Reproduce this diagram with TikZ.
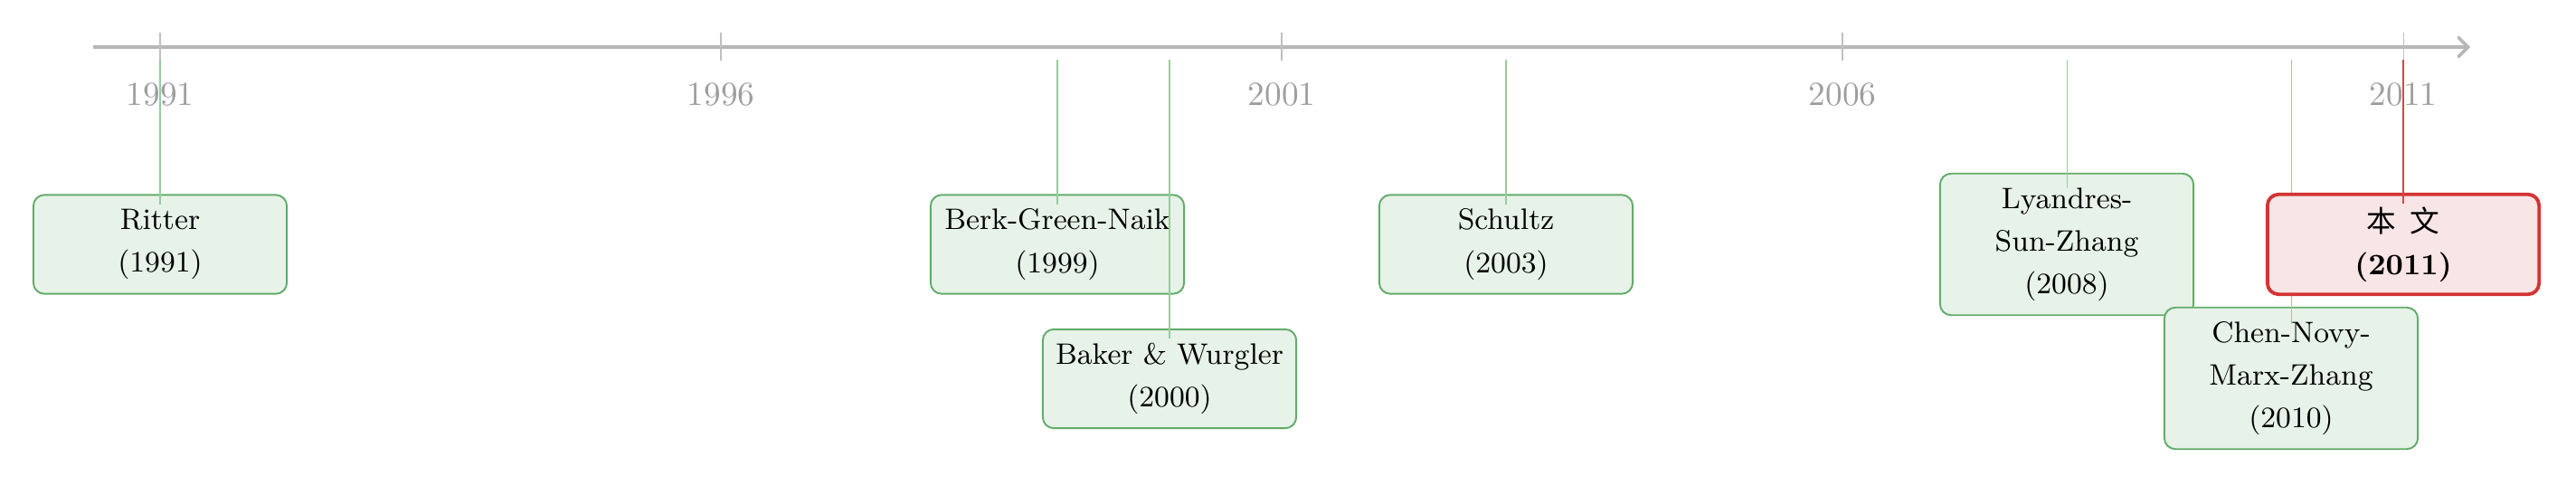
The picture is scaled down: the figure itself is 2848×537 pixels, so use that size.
\documentclass[tikz,border=0pt]{standalone}
\usepackage{fontspec}
\newfontfamily\cjkfont{Noto Sans CJK SC}
\usetikzlibrary{arrows.meta}
\definecolor{axisgray}{RGB}{183,183,183}
\definecolor{tickgray}{RGB}{192,192,192}
\definecolor{labelgray}{RGB}{158,158,158}
\definecolor{evfill}{RGB}{231,242,232}
\definecolor{evdraw}{RGB}{98,172,106}
\definecolor{evline}{RGB}{150,204,156}
\definecolor{mefill}{RGB}{248,229,230}
\definecolor{medraw}{RGB}{211,52,52}
\definecolor{meline}{RGB}{214,70,70}
\begin{document}
\begin{tikzpicture}[x=0.01cm,y=-0.01cm,
  yearlabel/.style={text=labelgray,font=\fontsize{10.6}{12}\selectfont,inner sep=0pt},
  tickmark/.style={draw=tickgray,line width=0.3pt},
  evbox/.style={draw=evdraw,fill=evfill,line width=0.55pt,rounded corners=3.5pt,
    align=center,font=\fontsize{9.3}{13.4}\selectfont,minimum width=79.7pt,
    inner xsep=2pt,inner ysep=2pt},
  twoline/.style={minimum height=31.1pt},
  threeline/.style={minimum height=44.5pt},
  mebox/.style={evbox,draw=medraw,fill=mefill,line width=1.1pt,
    minimum width=85.4pt,minimum height=31.4pt},
  evconn/.style={draw=evline,line width=0.3pt},
  meconn/.style={draw=meline,line width=0.35pt}]

\useasboundingbox (0,0) rectangle (2848,537);

% axis
\coordinate (axisstart) at (103,52);
\coordinate (axisend) at (2731,52);
\draw[axisgray,line width=1pt,
  -{Straight Barb[length=3pt,width=6pt,line cap=round]}] (axisstart) -- (axisend);

% ticks and year labels
\foreach \yr in {1991,1996,2001,2006,2011} {
  \pgfmathsetmacro\xx{177+124*(\yr-1991)}
  \coordinate (tick\yr a) at (\xx,36);
  \coordinate (tick\yr b) at (\xx,67);
  \draw[tickmark] (tick\yr a) -- (tick\yr b);
  \node[yearlabel] (year\yr) at (\xx,105) {\yr};
}

% events
\node[evbox,twoline] (ritter) at (177,270) {Ritter\\(1991)};
\coordinate (ritterstart) at (177,66);
\draw[evconn] (ritterstart) -- ([yshift=-3.3pt]ritter.north);

\node[evbox,twoline] (berk) at (1169,270) {Berk-Green-Naik\\(1999)};
\coordinate (berkstart) at (1169,66);
\draw[evconn] (berkstart) -- ([yshift=-3.3pt]berk.north);

\node[evbox,twoline] (baker) at (1293,418.5) {Baker \& Wurgler\\(2000)};
\coordinate (bakerstart) at (1293,66);
\draw[evconn] (bakerstart) -- ([yshift=-3.3pt]baker.north);

\node[evbox,twoline] (schultz) at (1665,270) {Schultz\\(2003)};
\coordinate (schultzstart) at (1665,66);
\draw[evconn] (schultzstart) -- ([yshift=-3.3pt]schultz.north);

\node[evbox,threeline] (lyandres) at (2285,270) {Lyandres-\\Sun-Zhang\\(2008)};
\coordinate (lyandresstart) at (2285,66);
\draw[evconn] (lyandresstart) -- ([yshift=-5pt]lyandres.north);

\node[evbox,threeline] (chen) at (2533,418) {Chen-Novy-\\Marx-Zhang\\(2010)};
\coordinate (chenstart) at (2533,66);
\draw[evconn] (chenstart) -- ([yshift=-5.5pt]chen.north);

\node[mebox] (me) at (2657,270) {{\cjkfont 本\hspace{0.45em}文}\\{\bfseries (2011)}};
\coordinate (mestart) at (2657,66);
\draw[meconn] (mestart) -- ([yshift=-3.5pt]me.north);

\end{tikzpicture}
\end{document}
